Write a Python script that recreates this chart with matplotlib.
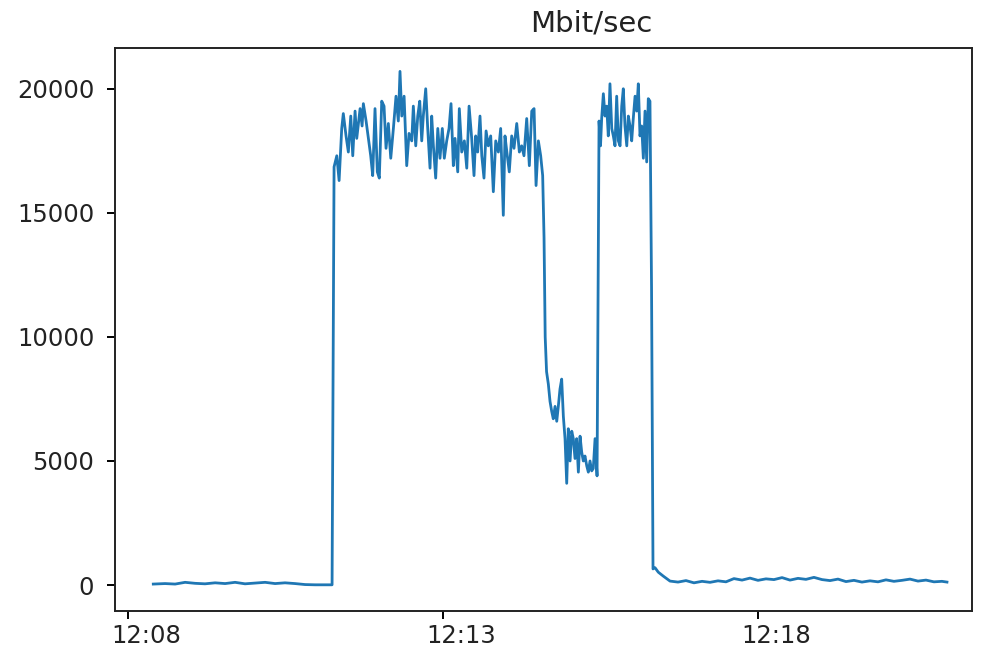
import matplotlib
matplotlib.use('Agg')
import matplotlib.pyplot as plt
import matplotlib.dates as mdates
import matplotlib.transforms as mtransforms
import pandas as pd

# seconds after 12:08:00 and throughput in Mbit/sec
secs = [24, 35.2, 44.8, 54.3, 63.8, 73.3, 82.9, 92.4, 101.9, 111.4, 121.0, 130.5,
        140.0, 149.5, 159.0, 168.6, 178.1, 187.6, 194.3, 196.2,
        198.8, 201.0, 203.5, 205.0, 207.6, 209.8, 212.1, 214.0, 216.2, 217.8,
        221.0, 222.9, 224.1, 226.7, 228.9, 231.1, 233.0, 235.2, 237.4, 239.3,
        241.6, 243.8, 245.7, 247.9, 250.2, 252.7, 255.2, 257.4, 259.0, 260.7,
        262.9, 265.4, 267.6, 270.2, 271.7, 274.0, 275.9, 277.8, 279.7, 281.2,
        283.5, 285.4, 287.6, 289.2, 290.8, 293.0, 295.0, 297.1, 299.3, 301.2,
        303.5, 305.7, 307.6, 309.8, 311.4, 314.0, 315.5, 317.8, 320.3, 322.6,
        324.8, 327.3, 329.5, 331.1, 333.0, 335.2, 336.9, 339.0, 341.0, 343.1,
        345.4, 347.9, 350.2, 352.7, 354.9, 357.4, 359.0, 361.2, 363.1, 365.4,
        367.6, 370.2, 372.7, 374.9, 377.1, 379.7, 382.2, 384.5, 386.7, 388.6,
        390.8, 393.0, 394.9, 396.2, 397.3, 398.6,
        400.3, 401.9, 403.5, 405.0, 406.7, 408.3, 409.8, 411.4, 413.0, 414.6,
        416.2, 417.8, 419.3, 421.0, 422.6, 424.1, 425.7, 427.3, 428.9, 430.5,
        432.1, 433.6, 435.2, 436.9, 438.4, 440.0, 441.6, 443.1, 444.8, 446.7,
        448.6, 450.0, 451.1, 452.7, 454.3, 455.9, 457.4, 459.0, 460.7, 462.2,
        463.8, 465.4, 467.0, 468.6, 470.2, 471.7, 473.3, 475.0, 476.5, 478.1,
        479.7, 481.2, 482.9, 484.5, 486.0, 487.6, 489.2, 490.8, 492.4, 494.0,
        495.5, 497.1, 498.6, 500.0,
        501.9, 505.0, 509.8, 516.2, 523.8, 531.4, 539.0, 546.7, 554.3, 561.9,
        569.5, 577.1, 584.8, 592.4, 600.0, 607.6, 615.2, 622.9, 630.5, 638.1,
        645.7, 653.3, 661.0, 668.6, 676.2, 683.8, 691.4, 699.0, 706.7, 714.3,
        721.9, 729.5, 737.1, 744.8, 752.4, 760.0, 767.6, 775.2, 780.0]

mbit = [40, 60, 40, 110, 70, 50, 90, 60, 110, 50, 80, 110,
        60, 90, 60, 20, 10, 10, 10, 16850,
        17300, 16300, 18400, 19000, 18100, 17450, 18900, 17300, 19100, 18000,
        19200, 18500, 19400, 18700, 18000, 17300, 16500, 19200, 16650, 16400,
        19500, 19300, 17600, 18600, 17200, 18400, 19700, 18700, 20700, 18900,
        19700, 16900, 18200, 17900, 19300, 17700, 18900, 19500, 17900, 18900,
        20000, 18400, 16800, 18900, 17700, 16400, 18400, 17200, 18400, 17200,
        17900, 18400, 19400, 16900, 18000, 16650, 19200, 17450, 17900, 16800,
        19300, 18000, 16500, 18100, 17450, 18900, 17300, 16400, 18300, 17700,
        18100, 15850, 17900, 17450, 18400, 14900, 18100, 17300, 16650, 18100,
        17600, 18600, 17450, 17700, 17300, 18800, 16900, 19100, 19200, 16100,
        17900, 17300, 16500, 14000, 10000, 8600,
        8100, 7400, 7000, 6700, 7200, 6600, 7200, 7900, 8300, 6800,
        5900, 4100, 6300, 5000, 6200, 5900, 5100, 5900, 4550, 6000,
        5350, 5000, 5200, 4800, 4550, 5000, 4600, 4700, 5900, 4400,
        18700, 17700, 18800, 19800, 18900, 19300, 18100, 20200, 18400, 18100,
        17700, 19700, 17900, 17700, 19300, 20000, 18500, 17700, 18900, 18500,
        17900, 18800, 19700, 19100, 20200, 18100, 18500, 17200, 19100, 17050,
        19600, 19500, 12000, 650,
        700, 520, 360, 160, 120, 180, 90, 150, 110, 170,
        130, 260, 200, 280, 190, 250, 220, 300, 200, 270,
        230, 310, 220, 180, 240, 140, 190, 120, 170, 130,
        210, 150, 190, 240, 160, 200, 130, 150, 120]

start = pd.Timestamp('2020-01-01 12:08:00')
times = start + pd.to_timedelta(secs, unit='s')

plt.rcParams['font.size'] = 17.5
plt.rcParams['text.color'] = '#222222'
plt.rcParams['xtick.labelcolor'] = '#222222'
plt.rcParams['ytick.labelcolor'] = '#222222'
fig = plt.figure(figsize=(9.92, 6.55), dpi=100)
ax = fig.add_axes([0.116, 0.067, 0.864, 0.86])
ax.plot(times, mbit, color='#1f77b4', linewidth=2.0)

ax.set_xlim(start + pd.Timedelta(seconds=-12.4), start + pd.Timedelta(seconds=804))
ax.set_ylim(-1050, 21650)
ax.set_yticks([0, 5000, 10000, 15000, 20000])
ax.xaxis.set_major_locator(mdates.MinuteLocator(byminute=range(8, 60, 5)))
ax.xaxis.set_major_formatter(mdates.DateFormatter('%H:%M'))
ax.tick_params(length=6, width=1.4)
ax.tick_params(axis='y', pad=9)
for s in ax.spines.values():
    s.set_linewidth(1.4)
    s.set_color('#222222')
ax.set_title('Mbit/sec', x=0.555, pad=12)

# the time labels sit a little right of their ticks in the original
shift = mtransforms.ScaledTranslation(0.18, 0, fig.dpi_scale_trans)
for lab in ax.get_xticklabels():
    lab.set_transform(lab.get_transform() + shift)

fig.savefig('out.png', dpi=100)
